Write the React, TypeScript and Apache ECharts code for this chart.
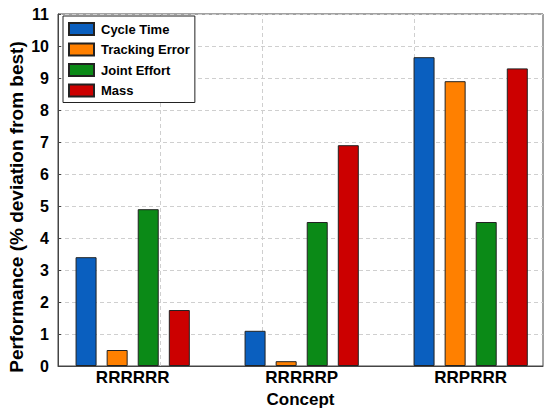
import React, { useEffect, useRef } from "react";
import * as echarts from "echarts";

const CATEGORIES = ["RRRRRR", "RRRRRP", "RRPRRR"];
const SERIES_NAMES = ["Cycle Time", "Tracking Error", "Joint Effort", "Mass"];
const CYCLE_TIME = [3.4, 1.1, 9.65];
const TRACKING_ERROR = [0.5, 0.15, 8.9];
const JOINT_EFFORT = [4.9, 4.5, 4.5];
const MASS = [1.75, 6.9, 9.3];
const Y_TICKS = [0, 1, 2, 3, 4, 5, 6, 7, 8, 9, 10, 11];
const VERTICAL_GRID = [1.44, 2.04, 2.94];

const COLORS = ["#0a5fbf", "#ff8000", "#0b8a17", "#cc0000"];
const FONT = "Liberation Sans, Arial, Helvetica, sans-serif";

export default function App() {
  const ref = useRef<HTMLDivElement>(null);
  useEffect(() => {
    document.body.style.margin = "0";
    if (!ref.current) return;
    const chart = echarts.init(ref.current, undefined, { renderer: "svg" });
    const values = [CYCLE_TIME, TRACKING_ERROR, JOINT_EFFORT, MASS];
    const series: any[] = SERIES_NAMES.map((name, si) => ({
      name,
      type: "bar",
      barWidth: 21,
      barGap: "48%",
      data: values[si].map((v, i) => [i + 1, v]),
      itemStyle: { color: COLORS[si], borderColor: "#222", borderWidth: 1 },
      z: 2,
    }));
    series[0].markLine = {
      silent: true,
      z: 1,
      symbol: ["none", "none"],
      label: { show: false },
      lineStyle: { type: [4, 3], color: "#cfcfcf", width: 1 },
      data: VERTICAL_GRID.map((x) => ({ xAxis: x })),
    };
    chart.setOption({
      animation: false,
      textStyle: { fontFamily: FONT },
      grid: {
        left: 58,
        right: 7,
        top: 14,
        bottom: 47,
        show: true,
        borderColor: "#444",
        borderWidth: 1,
        backgroundColor: "transparent",
      },
      legend: {
        data: SERIES_NAMES,
        orient: "vertical",
        left: 63,
        top: 16,
        itemWidth: 25,
        itemHeight: 12,
        itemGap: 6.5,
        padding: [6, 5, 5, 5],
        borderColor: "#222",
        borderWidth: 1,
        borderRadius: 0,
        backgroundColor: "#fff",
        icon: "rect",
        textStyle: {
          fontSize: 13,
          fontWeight: "bold",
          color: "#000",
          fontFamily: FONT,
          padding: [0, 0, 0, 2],
        },
      },
      xAxis: {
        type: "value",
        min: 0.558,
        max: 3.428,
        name: "Concept",
        nameLocation: "middle",
        nameGap: 22,
        nameTextStyle: { fontSize: 17, fontWeight: "bold", color: "#000", fontFamily: FONT },
        axisLine: { show: true, lineStyle: { color: "#444", width: 1 } },
        axisTick: { show: false },
        splitLine: { show: false },
        axisLabel: {
          customValues: [1, 2, 3],
          formatter: (v: number) => CATEGORIES[Math.round(v) - 1] ?? "",
          fontSize: 17,
          fontWeight: "bold",
          color: "#000",
          margin: 3,
          fontFamily: FONT,
        },
      },
      yAxis: {
        type: "value",
        min: Y_TICKS[0],
        max: Y_TICKS[Y_TICKS.length - 1],
        interval: 1,
        axisLine: { show: true, lineStyle: { color: "#444", width: 1 } },
        axisTick: { show: true, inside: true, length: 3, lineStyle: { color: "#444" } },
        splitLine: { show: true, lineStyle: { type: [4, 3], color: "#cfcfcf", width: 1 } },
        axisLabel: {
          fontSize: 16,
          fontWeight: "bold",
          color: "#000",
          margin: 9,
          fontFamily: FONT,
        },
      },
      graphic: [
        {
          type: "text",
          x: 16,
          y: 207,
          rotation: Math.PI / 2,
          style: {
            text: "Performance (% deviation from best)",
            fontSize: 19,
            fontWeight: "bold",
            fill: "#000",
            fontFamily: FONT,
            textAlign: "center",
            textVerticalAlign: "middle",
          },
        },
      ],
      series,
    });
    return () => chart.dispose();
  }, []);
  return <div ref={ref} style={{ width: 550, height: 413 }} />;
}
